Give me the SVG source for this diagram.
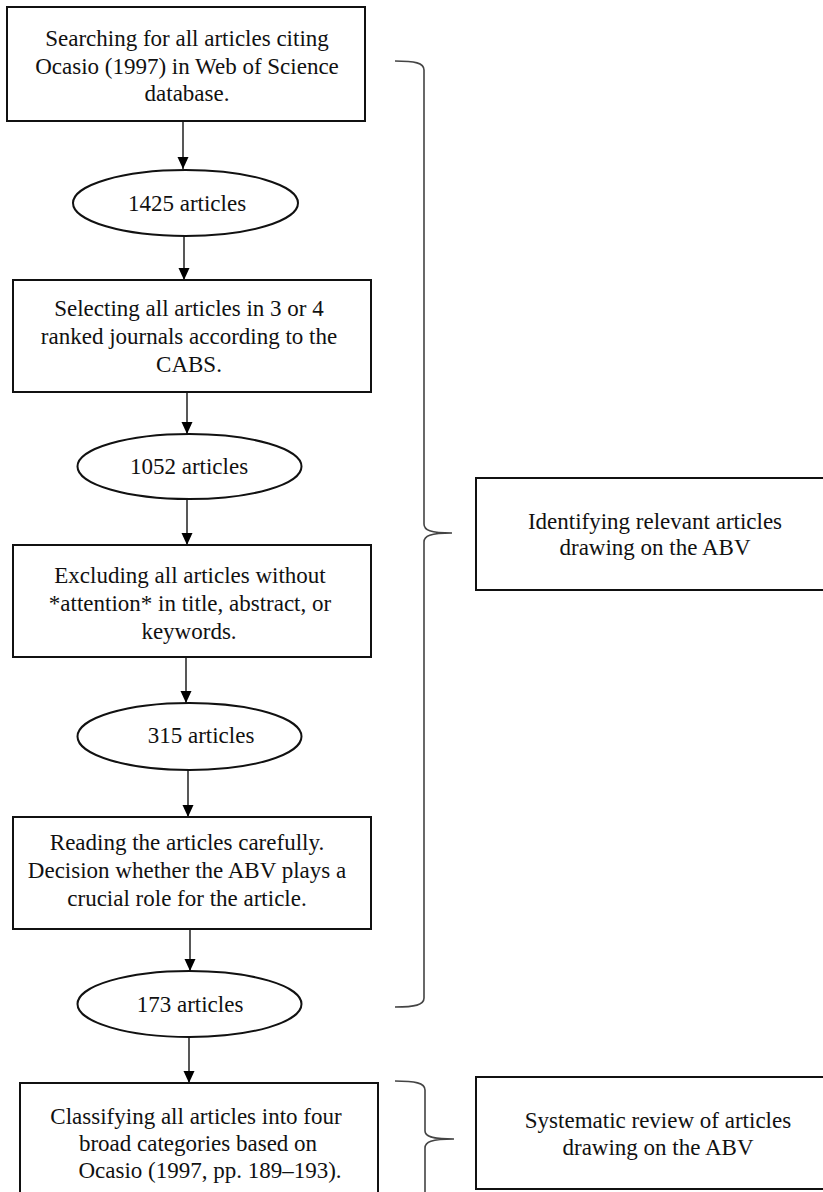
<svg xmlns="http://www.w3.org/2000/svg" width="823" height="1192" viewBox="0 0 823 1192">
<defs>
<marker id="ah" markerUnits="userSpaceOnUse" markerWidth="12" markerHeight="14" refX="12" refY="5.5" orient="auto">
<path d="M0,0 L12,5.5 L0,11 Z" fill="#000"/>
</marker>
<style>
.box{fill:#fff;stroke:#111;stroke-width:2}
.ell{fill:#fff;stroke:#111;stroke-width:2}
.t{font-size:23px;fill:#111;text-anchor:middle}
.conn{stroke:#111;stroke-width:1.4;fill:none;marker-end:url(#ah)}
.brace{stroke:#444;stroke-width:1.6;fill:none}
</style>
</defs>
<rect width="823" height="1192" fill="#fff"/>
<g id="connectors">
<line class="conn" x1="183" y1="121" x2="183" y2="169"/>
<line class="conn" x1="184" y1="236" x2="184" y2="280"/>
<line class="conn" x1="187" y1="392" x2="187" y2="434"/>
<line class="conn" x1="187" y1="499" x2="187" y2="545"/>
<line class="conn" x1="186" y1="657" x2="186" y2="703"/>
<line class="conn" x1="188" y1="770" x2="188" y2="817"/>
<line class="conn" x1="190" y1="929" x2="190" y2="971"/>
<line class="conn" x1="189" y1="1037" x2="189" y2="1083"/>
</g>
<g id="brace1">
<path class="brace" d="M395,61 C415,61 424,63 424,70 L424,524 C424,530 430,533 452,533 C430,533 424,536 424,542 L424,998 C424,1005 415,1007 395,1007"/>
</g>
<g id="brace2">
<path class="brace" d="M395,1081 C415,1081 425,1083 425,1090 L425,1131 C425,1136 431,1139 454,1139 C431,1139 425,1142 425,1148 L425,1200"/>
</g>
<g font-family="'Liberation Serif', 'DejaVu Serif', serif">
<g id="n1">
<rect class="box" x="7" y="7" width="358" height="114"/>
<text class="t" x="187" y="46">Searching for all articles citing</text>
<text class="t" x="187" y="74">Ocasio (1997) in Web of Science</text>
<text class="t" x="187" y="101">database.</text>
</g>
<g id="e1">
<ellipse class="ell" cx="185.5" cy="203" rx="112.5" ry="33"/>
<text class="t" x="187" y="211">1425  articles</text>
</g>
<g id="n2">
<rect class="box" x="13" y="280" width="358" height="112"/>
<text class="t" x="189" y="316">Selecting all articles in 3  or 4</text>
<text class="t" x="189" y="344">ranked journals according to the</text>
<text class="t" x="189" y="372">CABS.</text>
</g>
<g id="e2">
<ellipse class="ell" cx="189.5" cy="466.5" rx="112" ry="32.5"/>
<text class="t" x="189" y="474">1052  articles</text>
</g>
<g id="n3">
<rect class="box" x="13" y="545" width="358" height="112"/>
<text class="t" x="190" y="583">Excluding all articles without</text>
<text class="t" x="190" y="611">*attention* in title, abstract, or</text>
<text class="t" x="189" y="639">keywords.</text>
</g>
<g id="e3">
<ellipse class="ell" cx="189.5" cy="736.5" rx="112" ry="33.5"/>
<text class="t" x="201" y="743">315 articles</text>
</g>
<g id="n4">
<rect class="box" x="13" y="817" width="358" height="112"/>
<text class="t" x="187" y="850">Reading the articles carefully.</text>
<text class="t" x="187" y="878">Decision whether the ABV plays a</text>
<text class="t" x="187" y="906">crucial role for the article.</text>
</g>
<g id="e4">
<ellipse class="ell" cx="189.5" cy="1004" rx="112" ry="33"/>
<text class="t" x="190" y="1012">173  articles</text>
</g>
<g id="n5">
<rect class="box" x="20" y="1083" width="358" height="130"/>
<text class="t" x="196" y="1124">Classifying all articles into four</text>
<text class="t" x="198" y="1151">broad categories based on</text>
<text class="t" x="210" y="1178">Ocasio (1997, pp. 189–193).</text>
</g>
<g id="r1">
<rect class="box" x="476" y="478" width="360" height="112"/>
<text class="t" x="655" y="529">Identifying relevant articles</text>
<text class="t" x="655" y="555">drawing on the ABV</text>
</g>
<g id="r2">
<rect class="box" x="476" y="1077" width="360" height="112"/>
<text class="t" x="658" y="1128">Systematic review of articles</text>
<text class="t" x="658" y="1155">drawing on the ABV</text>
</g>
</g>
</svg>
